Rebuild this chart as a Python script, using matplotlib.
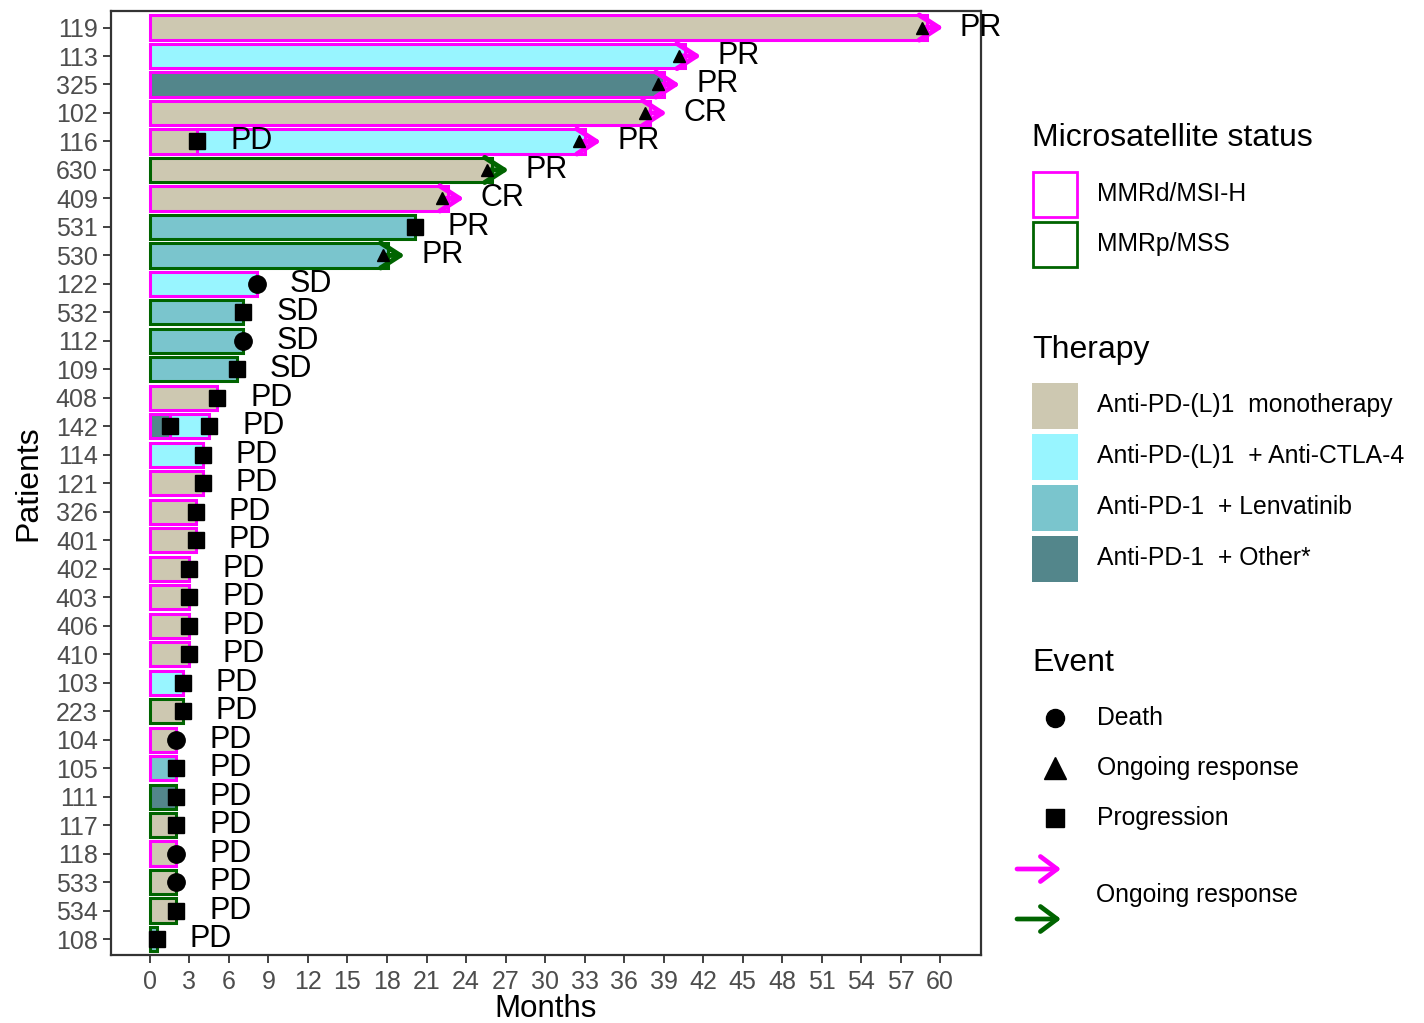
import matplotlib
matplotlib.use('Agg')
import matplotlib.pyplot as plt
from matplotlib.patches import Rectangle

plt.rcParams['font.family'] = ['Liberation Sans', 'DejaVu Sans']

# data, top to bottom
patients = ['119', '113', '325', '102', '116', '630', '409', '531', '530', '122',
            '532', '112', '109', '408', '142', '114', '121', '326', '401', '402',
            '403', '406', '410', '103', '223', '104', '105', '111', '117', '118',
            '533', '534', '108']
status = ['MSI', 'MSI', 'MSI', 'MSI', 'MSI', 'MSS', 'MSI', 'MSS', 'MSS', 'MSI',
          'MSS', 'MSS', 'MSS', 'MSI', 'MSI', 'MSI', 'MSI', 'MSI', 'MSI', 'MSI',
          'MSI', 'MSI', 'MSI', 'MSI', 'MSS', 'MSI', 'MSI', 'MSS', 'MSS', 'MSI',
          'MSS', 'MSS', 'MSS']
therapy = ['mono', 'ctla4', 'other', 'mono', 'ctla4', 'mono', 'mono', 'lenv', 'lenv', 'ctla4',
           'lenv', 'lenv', 'lenv', 'mono', 'ctla4', 'ctla4', 'mono', 'mono', 'mono', 'mono',
           'mono', 'mono', 'mono', 'ctla4', 'mono', 'mono', 'lenv', 'other', 'mono', 'mono',
           'mono', 'mono', 'lenv']
months = [59.0, 40.6, 39.0, 38.0, 33.0, 26.0, 22.6, 20.1, 18.1, 8.1,
          7.1, 7.1, 6.6, 5.1, 4.5, 4.0, 4.0, 3.5, 3.5, 3.0,
          3.0, 3.0, 3.0, 2.5, 2.5, 2.0, 2.0, 2.0, 2.0, 2.0,
          2.0, 2.0, 0.5]
event = ['Ongoing', 'Ongoing', 'Ongoing', 'Ongoing', 'Ongoing', 'Ongoing', 'Ongoing', 'Progression', 'Ongoing', 'Death',
         'Progression', 'Death', 'Progression', 'Progression', 'Progression', 'Progression', 'Progression', 'Progression', 'Progression', 'Progression',
         'Progression', 'Progression', 'Progression', 'Progression', 'Progression', 'Death', 'Progression', 'Progression', 'Progression', 'Death',
         'Death', 'Progression', 'Progression']
response = ['PR', 'PR', 'PR', 'CR', 'PR', 'PR', 'CR', 'PR', 'PR', 'SD',
            'SD', 'SD', 'SD', 'PD', 'PD', 'PD', 'PD', 'PD', 'PD', 'PD',
            'PD', 'PD', 'PD', 'PD', 'PD', 'PD', 'PD', 'PD', 'PD', 'PD',
            'PD', 'PD', 'PD']

# earlier therapy lines (progression at switch)
prior_patients = ['116', '142']
prior_therapy = ['mono', 'other']
prior_end = [3.6, 1.5]
prior_response = ['PD', '']

fills = {'mono': '#CDC8B1', 'ctla4': '#98F5FF', 'lenv': '#7AC5CD', 'other': '#53868B'}
edges = {'MSI': '#FF00FF', 'MSS': '#006400'}
therapy_labels = ['Anti-PD-(L)1  monotherapy', 'Anti-PD-(L)1  + Anti-CTLA-4',
                  'Anti-PD-1  + Lenvatinib', 'Anti-PD-1  + Other*']
status_labels = ['MMRd/MSI-H', 'MMRp/MSS']

W, H = 1424, 1023
fig = plt.figure(figsize=(W / 100, H / 100), dpi=100)
ax = fig.add_axes([111 / W, 1 - 955 / H, 870 / W, 944 / H])

bar_h = 0.85
lw = 2.2
lab_fs = 22
for i, p in enumerate(patients):
    ec = edges[status[i]]
    start = 0
    if p in prior_patients:
        k = prior_patients.index(p)
        start = prior_end[k]
        ax.barh(i, start, height=bar_h, left=0, color=fills[prior_therapy[k]],
                edgecolor=ec, linewidth=lw, zorder=2)
        ax.plot(start, i, marker='s', color='black', markersize=12, linestyle='none', zorder=5)
        if prior_response[k]:
            ax.text(start + 2.5, i, prior_response[k], fontsize=lab_fs, va='center', ha='left', zorder=6)
    ax.barh(i, months[i] - start, height=bar_h, left=start, color=fills[therapy[i]],
            edgecolor=ec, linewidth=lw, zorder=2)

    v = months[i]
    if event[i] == 'Ongoing':
        ax.annotate('', xy=(v + 1.25, i), xytext=(v - 0.3, i),
                    arrowprops=dict(arrowstyle='->,head_length=0.7,head_width=0.45',
                                    lw=3.6, color=ec, mutation_scale=20,
                                    shrinkA=0, shrinkB=0), zorder=4)
        ax.plot(v - 0.4, i, marker='^', color='black', markersize=9, linestyle='none', zorder=5)
    elif event[i] == 'Death':
        ax.plot(v, i, marker='o', color='black', markersize=12.5, linestyle='none', zorder=5)
    else:
        ax.plot(v, i, marker='s', color='black', markersize=12, linestyle='none', zorder=5)
    ax.text(v + 2.5, i, response[i], fontsize=lab_fs, va='center', ha='left', zorder=6, clip_on=False)

ax.set_xlim(-2.96, 63.11)
ax.set_ylim(len(patients) - 1 + 0.56, -0.58)
ax.set_xticks(range(0, 61, 3))
ax.set_yticks(range(len(patients)))
ax.set_yticklabels(patients)
ax.tick_params(axis='both', labelsize=18, labelcolor='#4D4D4D', color='#333333',
               length=6, width=1.3, direction='out')
ax.tick_params(axis='x', pad=5)
for s in ax.spines.values():
    s.set_color('#333333')
    s.set_linewidth(1.6)
ax.set_xlabel('Months', fontsize=22.5)
ax.set_ylabel('Patients', fontsize=23)
ax.xaxis.set_label_coords(0.5, -0.041)
ax.yaxis.set_label_coords(-0.078, 0.5)

# legends drawn in pixel coordinates
lax = fig.add_axes([0, 0, 1, 1])
lax.set_xlim(0, W)
lax.set_ylim(H, 0)
lax.axis('off')
lax.patch.set_alpha(0)

leg_fs = 17.8
title_fs = 23
lax.text(1032, 138, 'Microsatellite status', fontsize=title_fs, va='center', ha='left')
for j, (key, lab) in enumerate(zip(['MSI', 'MSS'], status_labels)):
    y0 = 172 + j * 50
    lax.add_patch(Rectangle((1033, y0), 44, 45, facecolor='white', edgecolor=edges[key], linewidth=2))
    lax.text(1097, y0 + 22, lab, fontsize=leg_fs, va='center', ha='left')

lax.text(1032, 350, 'Therapy', fontsize=title_fs, va='center', ha='left')
for j, (key, lab) in enumerate(zip(['mono', 'ctla4', 'lenv', 'other'], therapy_labels)):
    y0 = 383 + j * 51
    lax.add_patch(Rectangle((1032, y0), 46, 46, facecolor=fills[key], edgecolor='none'))
    lax.text(1097, y0 + 22, lab, fontsize=leg_fs, va='center', ha='left')

lax.text(1032, 663, 'Event', fontsize=title_fs, va='center', ha='left')
for j, (mk, ms, lab) in enumerate([('o', 13, 'Death'), ('^', 16, 'Ongoing response'),
                                   ('s', 13, 'Progression')]):
    yc = 718 + j * 50
    lax.plot(1055, yc, marker=mk, markersize=ms, color='black', linestyle='none')
    lax.text(1097, yc, lab, fontsize=leg_fs, va='center', ha='left')
for j, key in enumerate(['MSI', 'MSS']):
    yc = 869 + j * 50
    lax.annotate('', xy=(1061, yc), xytext=(1017, yc),
                 arrowprops=dict(arrowstyle='->,head_length=0.6,head_width=0.45',
                                 lw=3.4, color=edges[key], mutation_scale=20,
                                 shrinkA=0, shrinkB=0))
lax.text(1096, 895, 'Ongoing response', fontsize=leg_fs, va='center', ha='left')

fig.savefig('out.png', dpi=100)
